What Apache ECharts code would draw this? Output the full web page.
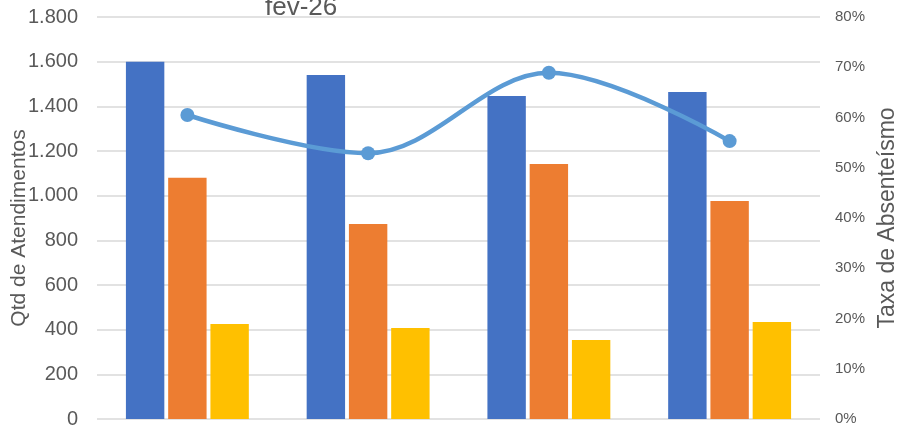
<!DOCTYPE html>
<html>
<head>
<meta charset="utf-8">
<script src="https://cdn.jsdelivr.net/npm/echarts@6/dist/echarts.min.js"></script>
<style>html,body{margin:0;padding:0;background:#fff}#c{width:904px;height:429px}</style>
</head>
<body>
<div id="c"></div>
<script>
var categories = ['A', 'B', 'C', 'D'];
var serieAzul = [1600, 1540, 1446, 1464];
var serieLaranja = [1080, 873, 1142, 976];
var serieAmarela = [425, 408, 354, 434];
var taxaAbsenteismo = [0.605, 0.529, 0.689, 0.553];
var titulo = 'fev-26';
var nomeEixoEsq = 'Qtd de Atendimentos';
var nomeEixoDir = 'Taxa de Absenteísmo';

var chart = echarts.init(document.getElementById('c'));
var grey = '#595959';
chart.setOption({
  animation: false,
  title: {
    text: titulo, left: 260, top: -10,
    textStyle: { fontFamily: 'Liberation Sans, Arial', fontSize: 26, fontWeight: 'normal', color: grey }
  },
  grid: { left: 97, right: 84, top: 17, bottom: 10, containLabel: false, outerBoundsMode: 'none' },
  xAxis: {
    type: 'category', data: categories,
    axisLine: { show: false }, axisTick: { show: false }, axisLabel: { show: false }
  },
  yAxis: [{
    type: 'value', min: 0, max: 1800, interval: 200,
    name: nomeEixoEsq, nameLocation: 'middle', nameGap: 67, nameMoveOverlap: false,
    nameTextStyle: { fontFamily: 'Liberation Sans, Arial', fontSize: 21, color: grey, padding: [0, 20, 0, 0] },
    axisLine: { show: false }, axisTick: { show: false },
    axisLabel: {
      margin: 19, fontFamily: 'Liberation Sans, Arial', fontSize: 20, color: grey,
      formatter: function (v) { return v.toString().replace(/\B(?=(\d{3})+(?!\d))/g, '.'); }
    },
    splitLine: { lineStyle: { color: '#d9d9d9', width: 1.5 } }
  }, {
    type: 'value', min: 0, max: 0.8, interval: 0.1,
    name: nomeEixoDir, nameLocation: 'middle', nameGap: 56, nameMoveOverlap: false,
    nameRotate: 90,
    nameTextStyle: { fontFamily: 'Liberation Sans, Arial', fontSize: 23, color: grey },
    axisLine: { show: false }, axisTick: { show: false },
    axisLabel: {
      margin: 15, fontFamily: 'Liberation Sans, Arial', fontSize: 15, color: grey,
      formatter: function (v) { return Math.round(v * 100) + '%'; }
    },
    splitLine: { show: false }
  }],
  series: [
    { type: 'bar', data: serieAzul, barGap: '10%', barCategoryGap: '32%', itemStyle: { color: '#4472C4' } },
    { type: 'bar', data: serieLaranja, itemStyle: { color: '#ED7D31' } },
    { type: 'bar', data: serieAmarela, itemStyle: { color: '#FFC000' } },
    {
      type: 'line', yAxisIndex: 1, data: taxaAbsenteismo, smooth: 0.35,
      symbol: 'circle', symbolSize: 14,
      lineStyle: { color: '#5B9BD5', width: 4.5 },
      itemStyle: { color: '#5B9BD5' }
    }
  ]
});
</script>
</body>
</html>
